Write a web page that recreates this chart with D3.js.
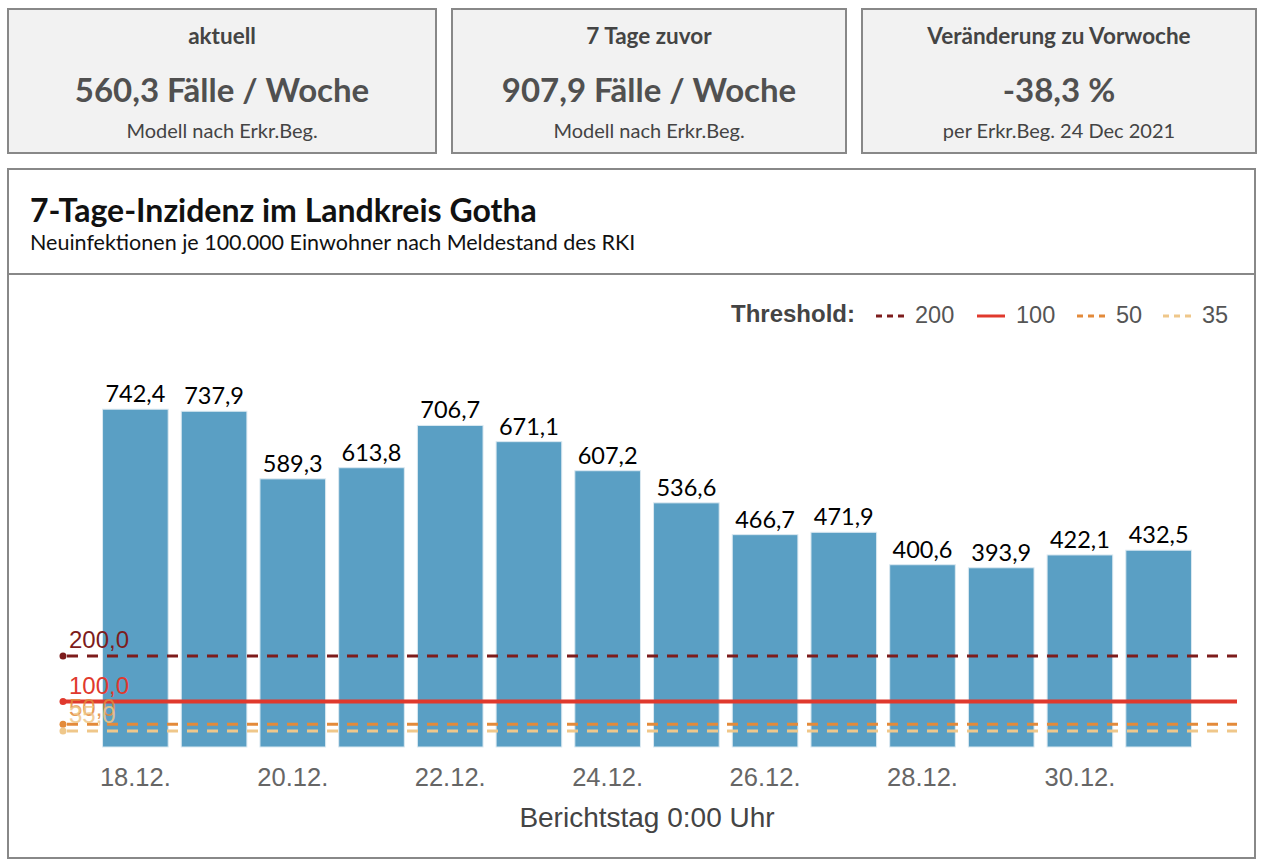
<!DOCTYPE html>
<html>
<head>
<meta charset="utf-8">
<script src="https://cdn.jsdelivr.net/npm/d3@7"></script>
<style>
  html, body { margin: 0; padding: 0; background: #fff; }
  svg { display: block; }
</style>
</head>
<body>
<svg id="chart" width="1263" height="868"></svg>
<script>
// ---- data ----
const dates = ["18.12.","19.12.","20.12.","21.12.","22.12.","23.12.","24.12.","25.12.","26.12.","27.12.","28.12.","29.12.","30.12.","31.12."];
const values = [742.4, 737.9, 589.3, 613.8, 706.7, 671.1, 607.2, 536.6, 466.7, 471.9, 400.6, 393.9, 422.1, 432.5];
const tickLabels = ["18.12.","20.12.","22.12.","24.12.","26.12.","28.12.","30.12."];
const thresholdValues = [200, 100, 50, 35];
const thresholdColors = ["#7d1c1c", "#e0392d", "#e38a3a", "#efc78a"];
const thresholdDashed = [true, false, true, true];
const cardTitles = ["aktuell", "7 Tage zuvor", "Veränderung zu Vorwoche"];
const cardValues = ["560,3 Fälle / Woche", "907,9 Fälle / Woche", "-38,3 %"];
const cardNotes = ["Modell nach Erkr.Beg.", "Modell nach Erkr.Beg.", "per Erkr.Beg. 24 Dec 2021"];

const svg = d3.select("#chart");
const fmt = v => d3.format(".1f")(v).replace(".", ",");
const SANS = "Liberation Sans, Arial, Helvetica";

// ---- cards ----
const cardX = [8, 452, 862], cardW = [428, 394, 394];
cardTitles.forEach((t, i) => {
  const g = svg.append("g").attr("transform", `translate(${cardX[i]},9)`);
  g.append("rect").attr("x", 0).attr("y", 0).attr("width", cardW[i]).attr("height", 144)
    .attr("fill", "#f2f2f2").attr("stroke", "#888").attr("stroke-width", 2);
  const cx = cardW[i] / 2;
  g.append("text").attr("x", cx).attr("y", 35).attr("text-anchor", "middle")
    .attr("font-family", "Lato").attr("font-weight", "bold").attr("font-size", 22.5).attr("fill", "#444").text(t);
  g.append("text").attr("x", cx).attr("y", 93).attr("text-anchor", "middle")
    .attr("font-family", "Lato").attr("font-weight", "bold").attr("font-size", 33).attr("fill", "#505050").text(cardValues[i]);
  g.append("text").attr("x", cx).attr("y", 129).attr("text-anchor", "middle")
    .attr("font-family", "Lato").attr("font-size", 20).attr("fill", "#444").text(cardNotes[i]);
});

// ---- chart panel ----
svg.append("rect").attr("x", 8).attr("y", 169).attr("width", 1247).attr("height", 689)
  .attr("fill", "#fff").attr("stroke", "#888").attr("stroke-width", 2);
svg.append("line").attr("x1", 8).attr("x2", 1255).attr("y1", 274).attr("y2", 274)
  .attr("stroke", "#888").attr("stroke-width", 2);
svg.append("text").attr("x", 30).attr("y", 222).attr("font-family", "Lato").attr("font-weight", "bold")
  .attr("font-size", 32).attr("fill", "#111").text("7-Tage-Inzidenz im Landkreis Gotha");
svg.append("text").attr("x", 30).attr("y", 249.5).attr("font-family", "Lato")
  .attr("font-size", 21.5).attr("fill", "#111").text("Neuinfektionen je 100.000 Einwohner nach Meldestand des RKI");

// ---- scales ----
const x = d3.scaleBand().domain(dates).range([96, 1198]).paddingInner(0.166).paddingOuter(0.083);
const y = d3.scaleLinear().domain([0, 800]).range([747, 383]);

// bars
svg.append("g").selectAll("rect").data(values).join("rect")
  .attr("x", (d, i) => x(dates[i])).attr("width", x.bandwidth())
  .attr("y", d => y(d)).attr("height", d => y(0) - y(d))
  .attr("fill", "#5a9fc4").attr("stroke", "#dbe9f1").attr("stroke-width", 1);

// bar labels
svg.append("g").selectAll("text").data(values).join("text")
  .attr("x", (d, i) => x(dates[i]) + x.bandwidth() / 2).attr("y", d => y(d) - 7)
  .attr("text-anchor", "middle").attr("font-family", "Lato").attr("font-size", 23.5).attr("fill", "#000")
  .text(d => fmt(d));

// thresholds
const tx0 = 62, tx1 = 1237;
thresholdValues.forEach((v, i) => {
  svg.append("line").attr("x1", tx0).attr("x2", tx1).attr("y1", y(v)).attr("y2", y(v))
    .attr("stroke", thresholdColors[i]).attr("stroke-width", thresholdDashed[i] ? 3 : 4)
    .attr("stroke-dasharray", thresholdDashed[i] ? "11,9" : null)
    .attr("stroke-dashoffset", -5);
  svg.append("circle").attr("cx", tx0 + 1).attr("cy", y(v)).attr("r", 3.5).attr("fill", thresholdColors[i]);
  svg.append("text").attr("x", 69).attr("y", y(v) - 8).attr("font-family", SANS)
    .attr("font-size", 24).attr("fill", thresholdColors[i]).attr("opacity", i >= 2 ? 0.85 : 1).text(fmt(v));
});

// x axis
const axis = d3.axisBottom(x).tickValues(tickLabels).tickSize(0).tickPadding(0);
const ax = svg.append("g").attr("transform", `translate(0,${y(0)})`).call(axis);
ax.select(".domain").remove();
ax.selectAll("text").attr("dy", 0).attr("y", 39).attr("font-family", SANS)
  .attr("font-size", 25.5).attr("fill", "#666");
svg.append("text").attr("x", 647).attr("y", 827).attr("text-anchor", "middle")
  .attr("font-family", SANS).attr("font-size", 28).attr("fill", "#444")
  .text("Berichtstag 0:00 Uhr");

// legend
const lg = svg.append("g");
lg.append("text").attr("x", 855).attr("y", 322).attr("text-anchor", "end")
  .attr("font-family", SANS).attr("font-weight", "bold").attr("font-size", 24)
  .attr("fill", "#444").text("Threshold:");
const legX = [876, 977, 1077, 1163];
const legW = 28;
thresholdValues.forEach((v, i) => {
  lg.append("line").attr("x1", legX[i]).attr("x2", legX[i] + legW).attr("y1", 316).attr("y2", 316)
    .attr("stroke", thresholdColors[i]).attr("stroke-width", 3)
    .attr("stroke-dasharray", thresholdDashed[i] ? "6,5" : null);
  lg.append("text").attr("x", legX[i] + legW + 11).attr("y", 323)
    .attr("font-family", SANS).attr("font-size", 23.5).attr("fill", "#555").text(v);
});
</script>
</body>
</html>
